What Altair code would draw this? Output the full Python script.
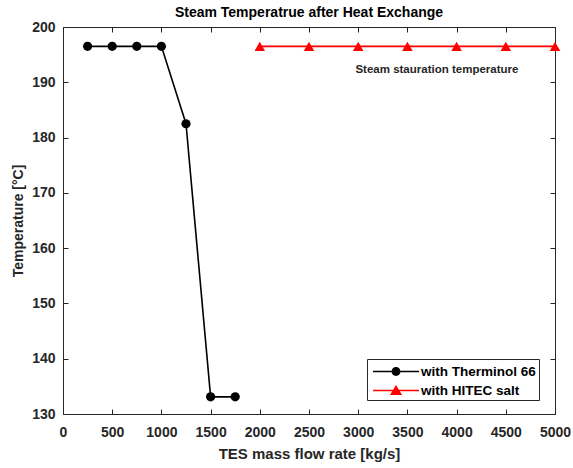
import altair as alt
import pandas as pd

therm_x = [250, 500, 750, 1000, 1250, 1500, 1750]
therm_y = [196.5, 196.5, 196.5, 196.5, 182.5, 133.1, 133.1]
hitec_x = [2000, 2500, 3000, 3500, 4000, 4500, 5000]
hitec_y = [196.5, 196.5, 196.5, 196.5, 196.5, 196.5, 196.5]
series_names = ["with Therminol 66", "with HITEC salt"]
series_colors = ["#000000", "#ff0000"]
x_ticks = [0, 500, 1000, 1500, 2000, 2500, 3000, 3500, 4000, 4500, 5000]
y_ticks = [130, 140, 150, 160, 170, 180, 190, 200]
note_text = ["Steam stauration temperature"]
note_x = [3800]
note_y = [192.2]

therm = pd.DataFrame({"x": therm_x, "y": therm_y, "s": series_names[0]})
hitec = pd.DataFrame({"x": hitec_x, "y": hitec_y, "s": series_names[1]})
both = pd.concat([therm, hitec], ignore_index=True)
note = pd.DataFrame({"x": note_x, "y": note_y, "t": note_text})

FONT = "Liberation Sans"
TXT = "#262626"
W, H = 492, 387

xs = alt.Scale(domain=[0, 5000], nice=False, zero=False)
ys = alt.Scale(domain=[130, 200], nice=False, zero=False)

inward = alt.ExprRef(expr="-5")
lab = dict(labelFont=FONT, labelFontSize=14, labelFontWeight="bold", labelColor=TXT,
           titleFont=FONT, titleFontWeight="bold", titleColor=TXT, labelFlush=False,
           domainColor=TXT, tickColor=TXT, tickWidth=1, domainWidth=1, grid=False)

x_axis_main = alt.Axis(orient="bottom", values=x_ticks, tickSize=inward, labelPadding=16,
                       title="TES mass flow rate [kg/s]", titleFontSize=15, titlePadding=7,
                       format="d", **lab)
y_axis_main = alt.Axis(orient="left", values=y_ticks, tickSize=inward, labelPadding=13,
                       title="Temperature [°C]", titleFontSize=14, titlePadding=6,
                       format="d", **lab)
x_axis_top = alt.Axis(orient="top", values=x_ticks, tickSize=inward, labels=False, title=None,
                      domainColor=TXT, tickColor=TXT, grid=False)
y_axis_right = alt.Axis(orient="right", values=y_ticks, tickSize=inward, labels=False, title=None,
                        domainColor=TXT, tickColor=TXT, grid=False)

frame = alt.Chart(both).mark_point(opacity=0, size=1).encode(
    x=alt.X("x:Q", scale=xs, axis=x_axis_main),
    y=alt.Y("y:Q", scale=ys, axis=y_axis_main),
)
frame2 = alt.Chart(both).mark_point(opacity=0, size=1).encode(
    x=alt.X("x:Q", scale=xs, axis=x_axis_top),
    y=alt.Y("y:Q", scale=ys, axis=y_axis_right),
)

therm_line = alt.Chart(therm).mark_line(strokeWidth=1.6, color="#000000").encode(
    x=alt.X("x:Q", scale=xs, axis=None),
    y=alt.Y("y:Q", scale=ys, axis=None),
)
hitec_line = alt.Chart(hitec).mark_line(strokeWidth=1.6, color="#ff0000").encode(
    x=alt.X("x:Q", scale=xs, axis=None),
    y=alt.Y("y:Q", scale=ys, axis=None),
)

therm_pts = alt.Chart(therm).mark_point(shape="circle", filled=True, size=85, opacity=1, color="#000000").encode(
    x=alt.X("x:Q", scale=xs, axis=None),
    y=alt.Y("y:Q", scale=ys, axis=None),
)
hitec_pts = alt.Chart(hitec).mark_point(shape="triangle-up", filled=True, size=110, opacity=1, color="#ff0000").encode(
    x=alt.X("x:Q", scale=xs, axis=None),
    y=alt.Y("y:Q", scale=ys, axis=None),
)

# legend glyphs (filled): unit = sqrt(361)/2 = 9.5 px; line drawn as a thin bar
circle_path = ("M-0.68,-0.08H4.16V0.08H-0.68Z"
               "M2.21,0A0.47,0.47,0,1,1,1.27,0A0.47,0.47,0,1,1,2.21,0Z")
tri_path = ("M-0.68,-0.08H4.16V0.08H-0.68Z"
            "M1.74,-0.58L2.38,0.47L1.10,0.47Z")

leg = alt.Legend(title=None, orient="none", legendX=304, legendY=332,
                 strokeColor=TXT, fillColor="white", padding=3,
                 symbolOpacity=1, symbolStrokeWidth=0, symbolSize=361,
                 labelFontSize=13.5, labelFont=FONT, labelFontWeight="bold",
                 labelColor="#000000", rowPadding=3, labelOffset=32)

legend_layer = alt.Chart(both).mark_point(filled=True, opacity=0, size=1).encode(
    x=alt.X("x:Q", scale=xs, axis=None),
    y=alt.Y("y:Q", scale=ys, axis=None),
    color=alt.Color("s:N", scale=alt.Scale(domain=series_names, range=series_colors), legend=leg),
    shape=alt.Shape("s:N", scale=alt.Scale(domain=series_names, range=[circle_path, tri_path]), legend=leg),
)

text = alt.Chart(note).mark_text(font=FONT, fontWeight="bold", fontSize=11.5, color=TXT).encode(
    x=alt.X("x:Q", scale=xs, axis=None),
    y=alt.Y("y:Q", scale=ys, axis=None),
    text="t:N",
)

chart = alt.layer(frame, frame2, therm_line, hitec_line, therm_pts, hitec_pts, legend_layer, text).resolve_axis(
    x="independent", y="independent"
).properties(
    width=W, height=H,
    title=alt.TitleParams("Steam Temperatrue after Heat Exchange", font=FONT, fontSize=14,
                          fontWeight="bold", color="#000000", offset=0, anchor="middle"),
    autosize=alt.AutoSizeParams(type="none"),
    padding={"left": 63, "top": 27, "right": 18, "bottom": 54},
).configure_view(stroke=TXT, strokeWidth=1).configure(background="white")

chart.save("out.html", embed_options={"renderer": "svg", "actions": False})
